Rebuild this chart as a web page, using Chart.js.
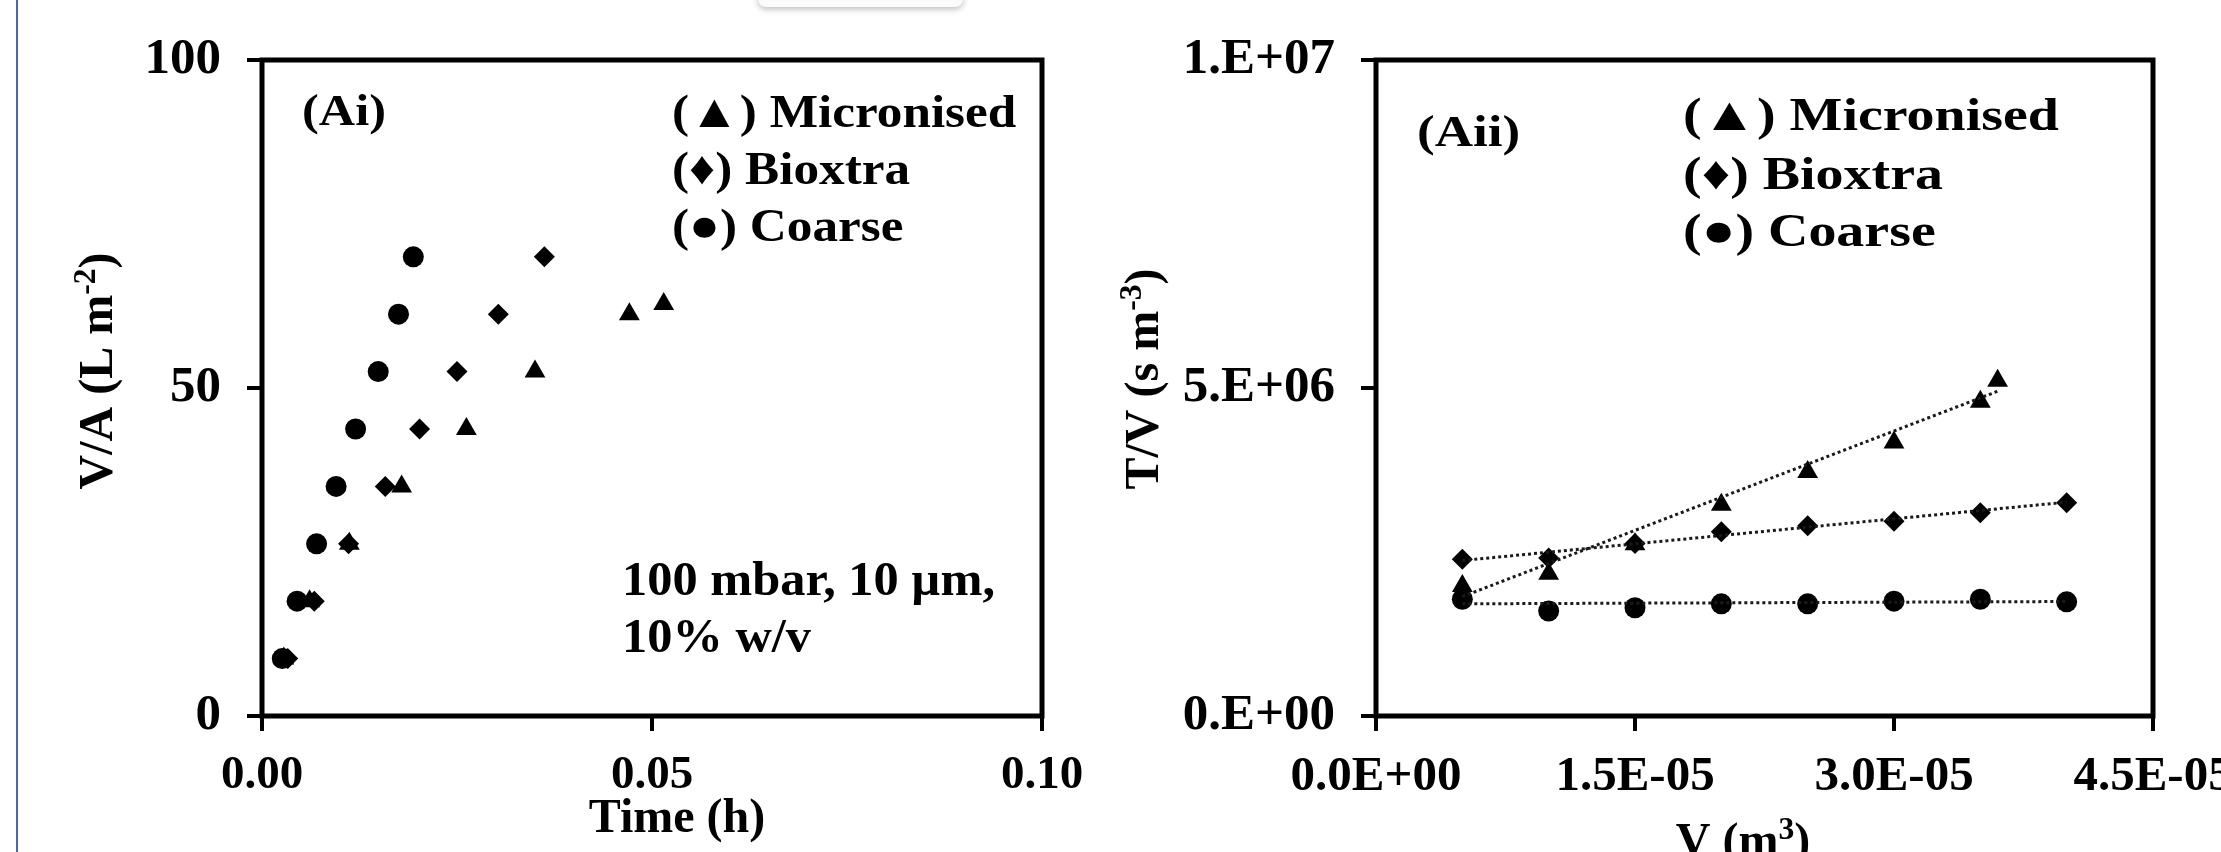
<!DOCTYPE html>
<html>
<head>
<meta charset="utf-8">
<script src="https://cdn.jsdelivr.net/npm/chart.js@4.4.0/dist/chart.umd.min.js"></script>
<style>
  html, body { margin: 0; padding: 0; background: #fff; width: 2221px; height: 852px; overflow: hidden; }
  body { position: relative; }
  .panel { position: absolute; top: 0; height: 852px; }
  #edge { position: absolute; left: 16px; top: 0; width: 2px; height: 852px; background: #4a68ad; }
  #tab { position: absolute; left: 758px; top: -9px; width: 205px; height: 16px; border-radius: 8px;
         background: #fbfbfb; box-shadow: 0 2px 6px rgba(0,0,0,0.28); }
</style>
</head>
<body>
<div id="edge"></div>
<div id="tab"></div>
<div class="panel" style="left:0;width:1110px"><canvas id="filtrateChart" width="1110" height="852"></canvas></div>
<div class="panel" style="left:1110px;width:1111px"><canvas id="resistanceChart" width="1111" height="852"></canvas></div>
<script>
const serif = "'Liberation Serif', 'Times New Roman', serif";

// (Ai) V/A (L m-2) against time (h)
const timeMicronised = [0.0028, 0.0061, 0.0112, 0.0179, 0.0262, 0.0350, 0.0471, 0.0515];
const vaMicronised = [8.75, 17.5, 26.25, 35, 43.75, 52.5, 61.25, 62.8];
const timeBioxtra = [0.0033, 0.0067, 0.0111, 0.0158, 0.0202, 0.0250, 0.0303, 0.0362];
const vaBioxtra = [8.75, 17.5, 26.25, 35, 43.75, 52.5, 61.25, 70];
const timeCoarse = [0.0026, 0.0045, 0.0070, 0.0095, 0.0120, 0.0149, 0.0175, 0.0194];
const vaCoarse = [8.75, 17.5, 26.25, 35, 43.75, 52.5, 61.25, 70];

// (Aii) T/V (s m-3) against V (m3)
const volMicronised = [5e-6, 1e-5, 1.5e-5, 2e-5, 2.5e-5, 3e-5, 3.5e-5, 3.6e-5];
const tvMicronised = [1.98e6, 2.17e6, 2.62e6, 3.22e6, 3.72e6, 4.17e6, 4.79e6, 5.11e6];
const volOthers = [5e-6, 1e-5, 1.5e-5, 2e-5, 2.5e-5, 3e-5, 3.5e-5, 4e-5];
const tvBioxtra = [2.39e6, 2.41e6, 2.63e6, 2.81e6, 2.90e6, 2.97e6, 3.10e6, 3.25e6];
const tvCoarse = [1.78e6, 1.60e6, 1.65e6, 1.71e6, 1.71e6, 1.75e6, 1.78e6, 1.74e6];

// dotted trend lines (start and end)
const trendVolMicronised = [5e-6, 3.6e-5];
const trendMicronised = [1.82e6, 4.95e6];
const trendVolOthers = [5e-6, 4e-5];
const trendBioxtra = [2.37e6, 3.26e6];
const trendCoarse = [1.71e6, 1.745e6];

// axis ticks
const timeTicks = [0, 0.05, 0.1];
const timeLabels = ["0.00", "0.05", "0.10"];
const vaTicks = [0, 50, 100];
const vaLabels = ["0", "50", "100"];
const volTicks = [0, 1.5e-5, 3e-5, 4.5e-5];
const volLabels = ["0.0E+00", "1.5E-05", "3.0E-05", "4.5E-05"];
const tvTicks = [0, 5e6, 1e7];
const tvLabels = ["0.E+00", "5.E+06", "1.E+07"];

const pairs = (xs, ys) => xs.map((x, i) => ({ x: x, y: ys[i] }));

function markers(label, xs, ys, style, radius) {
  return {
    label: label,
    data: pairs(xs, ys),
    pointStyle: style,
    pointRadius: radius,
    pointBackgroundColor: "#000",
    pointBorderColor: "#000",
    pointBorderWidth: 0,
    showLine: false
  };
}

function trend(xs, ys) {
  return {
    data: pairs(xs, ys),
    showLine: true,
    pointRadius: 0,
    borderColor: "#1a1a1a",
    borderWidth: 3,
    borderDash: [3, 3]
  };
}

// box round the plot area
const framePlugin = {
  id: "frame",
  beforeDatasetsDraw(chart) {
    const a = chart.chartArea;
    const c = chart.ctx;
    c.save();
    c.strokeStyle = "#000";
    c.lineWidth = 5;
    c.strokeRect(a.left, a.top, a.right - a.left, a.bottom - a.top);
    c.restore();
  }
};

// free text: legend, panel tag, notes and axis titles with superscripts
const notesPlugin = {
  id: "notes",
  afterDraw(chart, args, opts) {
    const ctx = chart.ctx;
    (opts.items || []).forEach(item => {
      const size = item.size;
      const parts = item.parts;
      ctx.save();
      ctx.translate(item.x, item.y);
      if (item.rotate) ctx.rotate(item.rotate);
      if (item.sx) ctx.scale(item.sx, 1);
      let total = 0;
      const widths = parts.map(p => {
        ctx.font = "bold " + (p[1] ? size * 0.66 : size) + "px " + serif;
        const w = ctx.measureText(p[0]).width;
        total += w;
        return w;
      });
      let x = item.center ? -total / 2 : 0;
      ctx.fillStyle = "#000";
      ctx.textBaseline = "alphabetic";
      ctx.textAlign = "left";
      parts.forEach((p, i) => {
        ctx.font = "bold " + (p[1] ? size * 0.66 : size) + "px " + serif;
        ctx.fillText(p[0], x, p[1] ? -size * 0.36 : 0);
        x += widths[i];
      });
      ctx.restore();
    });
  }
};

function axis(ticks, labels, min, max, fitSize, horizontal, fontSize) {
  return {
    type: "linear",
    min: min,
    max: max,
    afterBuildTicks: s => { s.ticks = ticks.map(v => ({ value: v })); },
    afterFit: s => {
      if (horizontal) { s.height = fitSize; s.paddingLeft = 0; s.paddingRight = 0; }
      else { s.width = fitSize; s.paddingTop = 0; s.paddingBottom = 0; }
    },
    border: { display: false },
    grid: { drawOnChartArea: false, drawTicks: true, tickLength: 15, lineWidth: 4, color: "#000" },
    ticks: {
      autoSkip: false,
      maxRotation: 0,
      padding: horizontal ? 17 : 26,
      color: "#000",
      font: { family: serif, size: fontSize, weight: "bold" },
      callback: (v, i) => labels[i]
    }
  };
}

function baseOptions(xAxis, yAxis, items) {
  return {
    responsive: false,
    animation: false,
    layout: { padding: { left: 0, top: 60, right: 68, bottom: 0 } },
    scales: { x: xAxis, y: yAxis },
    plugins: {
      legend: { display: false },
      tooltip: { enabled: false },
      notes: { items: items }
    }
  };
}

const big = 48;
const leftItems = [
  { x: 302, y: 125, size: 45, sx: 1.12, parts: [["(Ai)"]] },
  { x: 672, y: 127, size: 47, sx: 1.09, parts: [["(\u25B2) Micronised"]] },
  { x: 672, y: 184, size: 47, sx: 1.09, parts: [["(\u2666) Bioxtra"]] },
  { x: 672, y: 241, size: 47, sx: 1.09, parts: [["(\u25CF) Coarse"]] },
  { x: 622, y: 595, size: big, sx: 1.05, parts: [["100 mbar, 10 \u00B5m,"]] },
  { x: 622, y: 652, size: big, sx: 1.05, parts: [["10% w/v"]] },
  { x: 677, y: 832, size: big, center: true, parts: [["Time (h)"]] },
  { x: 112, y: 371, size: big, center: true, rotate: -Math.PI / 2, parts: [["V/A (L m"], ["-2", true], [")"]] }
];
const rightItems = [
  { x: 307, y: 146, size: 45, sx: 1.18, parts: [["(Aii)"]] },
  { x: 573, y: 130, size: 47, sx: 1.19, parts: [["(\u25B2) Micronised"]] },
  { x: 573, y: 189, size: 47, sx: 1.19, parts: [["(\u2666) Bioxtra"]] },
  { x: 573, y: 246, size: 47, sx: 1.19, parts: [["(\u25CF) Coarse"]] },
  { x: 633, y: 856, size: big, center: true, parts: [["V (m"], ["3", true], [")"]] },
  { x: 48, y: 379, size: big, center: true, rotate: -Math.PI / 2, parts: [["T/V (s m"], ["-3", true], [")"]] }
];

new Chart(document.getElementById("filtrateChart").getContext("2d"), {
  type: "scatter",
  data: {
    datasets: [
      markers("Micronised", timeMicronised, vaMicronised, "triangle", 12),
      markers("Bioxtra", timeBioxtra, vaBioxtra, "rectRot", 10.5),
      markers("Coarse", timeCoarse, vaCoarse, "circle", 10.5)
    ]
  },
  options: baseOptions(
    axis(timeTicks, timeLabels, 0, 0.1, 136, true, 47),
    axis(vaTicks, vaLabels, 0, 100, 262, false, 51),
    leftItems
  ),
  plugins: [framePlugin, notesPlugin]
});

new Chart(document.getElementById("resistanceChart").getContext("2d"), {
  type: "scatter",
  data: {
    datasets: [
      trend(trendVolMicronised, trendMicronised),
      trend(trendVolOthers, trendBioxtra),
      trend(trendVolOthers, trendCoarse),
      markers("Micronised", volMicronised, tvMicronised, "triangle", 12),
      markers("Bioxtra", volOthers, tvBioxtra, "rectRot", 10.5),
      markers("Coarse", volOthers, tvCoarse, "circle", 10.5)
    ]
  },
  options: baseOptions(
    axis(volTicks, volLabels, 0, 4.5e-5, 136, true, 49),
    axis(tvTicks, tvLabels, 0, 1e7, 266, false, 51),
    rightItems
  ),
  plugins: [framePlugin, notesPlugin]
});
</script>
</body>
</html>
